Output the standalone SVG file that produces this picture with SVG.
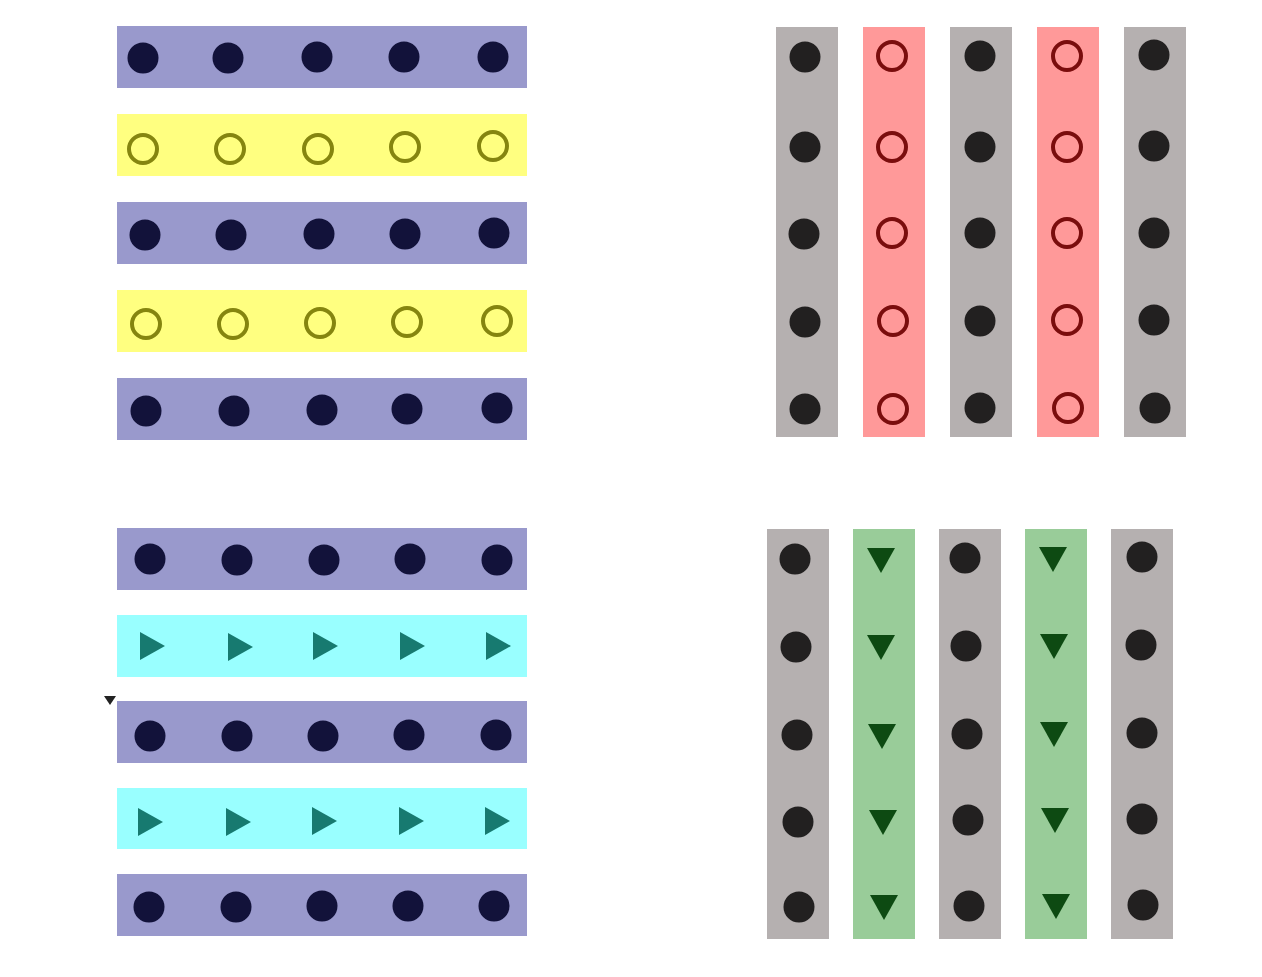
<svg xmlns="http://www.w3.org/2000/svg" width="1262" height="977" viewBox="0 0 1262 977">
<defs>
<style>
.pb{fill:#9999cc}.yb{fill:#ffff80}.cb{fill:#99ffff}.gb{fill:#b5b0b0}.rb{fill:#ff9999}.vb{fill:#99cc99}
.nd{fill:#12123a}.bd{fill:#222020}
.yc{fill:none;stroke:#85850f;stroke-width:4}
.rc{fill:none;stroke:#7a0d0d;stroke-width:4}
.tt{fill:#177a70}.gt{fill:#0d4a12}
</style>
<circle id="d" r="15.5"/>
<circle id="o" r="14"/>
<path id="tr" d="M-12,-14 L13,0 L-12,14 Z"/>
<path id="td" d="M-14,-12 L14,-12 L0,13 Z"/>
</defs>
<rect width="1262" height="977" fill="#ffffff"/>

<g id="top-left">
<g id="tl-row1"><rect class="pb" x="117" y="26" width="410" height="62"/>
<g class="nd"><use href="#d" x="143" y="58"/><use href="#d" x="228" y="58"/><use href="#d" x="317" y="57"/><use href="#d" x="404" y="57"/><use href="#d" x="493" y="57"/></g></g>
<g id="tl-row2"><rect class="yb" x="117" y="114" width="410" height="62"/>
<g class="yc"><use href="#o" x="143" y="149"/><use href="#o" x="230" y="149"/><use href="#o" x="318" y="149"/><use href="#o" x="405" y="147"/><use href="#o" x="493" y="146"/></g></g>
<g id="tl-row3"><rect class="pb" x="117" y="202" width="410" height="62"/>
<g class="nd"><use href="#d" x="145" y="235"/><use href="#d" x="231" y="235"/><use href="#d" x="319" y="234"/><use href="#d" x="405" y="234"/><use href="#d" x="494" y="233"/></g></g>
<g id="tl-row4"><rect class="yb" x="117" y="290" width="410" height="62"/>
<g class="yc"><use href="#o" x="146" y="324"/><use href="#o" x="233" y="324"/><use href="#o" x="320" y="323"/><use href="#o" x="407" y="322"/><use href="#o" x="497" y="321"/></g></g>
<g id="tl-row5"><rect class="pb" x="117" y="378" width="410" height="62"/>
<g class="nd"><use href="#d" x="146" y="411"/><use href="#d" x="234" y="411"/><use href="#d" x="322" y="410"/><use href="#d" x="407" y="409"/><use href="#d" x="497" y="408"/></g></g>
</g>

<g id="top-right">
<g id="tr-col1"><rect class="gb" x="776" y="27" width="62" height="410"/>
<g class="bd"><use href="#d" x="805" y="57"/><use href="#d" x="805" y="147"/><use href="#d" x="804" y="234"/><use href="#d" x="805" y="322"/><use href="#d" x="805" y="409"/></g></g>
<g id="tr-col2"><rect class="rb" x="863" y="27" width="62" height="410"/>
<g class="rc"><use href="#o" x="892" y="56"/><use href="#o" x="892" y="147"/><use href="#o" x="892" y="233"/><use href="#o" x="893" y="321"/><use href="#o" x="893" y="409"/></g></g>
<g id="tr-col3"><rect class="gb" x="950" y="27" width="62" height="410"/>
<g class="bd"><use href="#d" x="980" y="56"/><use href="#d" x="980" y="147"/><use href="#d" x="980" y="233"/><use href="#d" x="980" y="321"/><use href="#d" x="980" y="408"/></g></g>
<g id="tr-col4"><rect class="rb" x="1037" y="27" width="62" height="410"/>
<g class="rc"><use href="#o" x="1067" y="56"/><use href="#o" x="1067" y="147"/><use href="#o" x="1067" y="233"/><use href="#o" x="1067" y="320"/><use href="#o" x="1068" y="408"/></g></g>
<g id="tr-col5"><rect class="gb" x="1124" y="27" width="62" height="410"/>
<g class="bd"><use href="#d" x="1154" y="55"/><use href="#d" x="1154" y="146"/><use href="#d" x="1154" y="233"/><use href="#d" x="1154" y="320"/><use href="#d" x="1155" y="408"/></g></g>
</g>

<g id="bottom-left">
<g id="bl-row1"><rect class="pb" x="117" y="528" width="410" height="62"/>
<g class="nd"><use href="#d" x="150" y="559"/><use href="#d" x="237" y="560"/><use href="#d" x="324" y="560"/><use href="#d" x="410" y="559"/><use href="#d" x="497" y="560"/></g></g>
<g id="bl-row2"><rect class="cb" x="117" y="615" width="410" height="62"/>
<g class="tt"><use href="#tr" x="152" y="646"/><use href="#tr" x="240" y="647"/><use href="#tr" x="325" y="646"/><use href="#tr" x="412" y="646"/><use href="#tr" x="498" y="646"/></g></g>
<g id="bl-row3"><rect class="pb" x="117" y="701" width="410" height="62"/>
<g class="nd"><use href="#d" x="150" y="736"/><use href="#d" x="237" y="736"/><use href="#d" x="323" y="736"/><use href="#d" x="409" y="735"/><use href="#d" x="496" y="735"/></g></g>
<g id="bl-row4"><rect class="cb" x="117" y="788" width="410" height="61"/>
<g class="tt"><use href="#tr" x="150" y="822"/><use href="#tr" x="238" y="822"/><use href="#tr" x="324" y="821"/><use href="#tr" x="411" y="821"/><use href="#tr" x="497" y="821"/></g></g>
<g id="bl-row5"><rect class="pb" x="117" y="874" width="410" height="62"/>
<g class="nd"><use href="#d" x="149" y="907"/><use href="#d" x="236" y="907"/><use href="#d" x="322" y="906"/><use href="#d" x="408" y="906"/><use href="#d" x="494" y="906"/></g></g>
<path id="stray-mark" d="M104,696 L116,696 L110,705 Z" fill="#222"/>
</g>

<g id="bottom-right">
<g id="br-col1"><rect class="gb" x="767" y="529" width="62" height="410"/>
<g class="bd"><use href="#d" x="795" y="559"/><use href="#d" x="796" y="647"/><use href="#d" x="797" y="735"/><use href="#d" x="798" y="822"/><use href="#d" x="799" y="907"/></g></g>
<g id="br-col2"><rect class="vb" x="853" y="529" width="62" height="410"/>
<g class="gt"><use href="#td" x="881" y="560"/><use href="#td" x="881" y="647"/><use href="#td" x="882" y="736"/><use href="#td" x="883" y="822"/><use href="#td" x="884" y="907"/></g></g>
<g id="br-col3"><rect class="gb" x="939" y="529" width="62" height="410"/>
<g class="bd"><use href="#d" x="965" y="558"/><use href="#d" x="966" y="646"/><use href="#d" x="967" y="734"/><use href="#d" x="968" y="820"/><use href="#d" x="969" y="906"/></g></g>
<g id="br-col4"><rect class="vb" x="1025" y="529" width="62" height="410"/>
<g class="gt"><use href="#td" x="1053" y="559"/><use href="#td" x="1054" y="646"/><use href="#td" x="1054" y="734"/><use href="#td" x="1055" y="820"/><use href="#td" x="1056" y="906"/></g></g>
<g id="br-col5"><rect class="gb" x="1111" y="529" width="62" height="410"/>
<g class="bd"><use href="#d" x="1142" y="557"/><use href="#d" x="1141" y="645"/><use href="#d" x="1142" y="733"/><use href="#d" x="1142" y="819"/><use href="#d" x="1143" y="905"/></g></g>
</g>

<g id="connectors"></g>
</svg>
